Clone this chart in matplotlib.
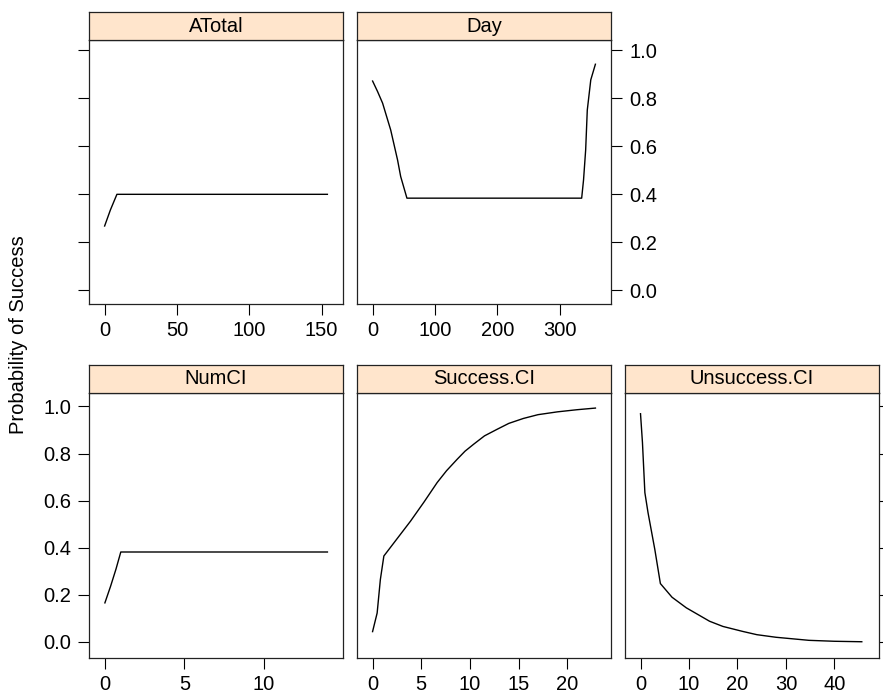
import matplotlib
matplotlib.use("Agg")
import matplotlib.pyplot as plt

plt.rcParams['font.family'] = ['Liberation Sans', 'DejaVu Sans']

# ---- data ----
atotal_x = [0, 4, 8.5, 154]
atotal_y = [0.268, 0.335, 0.40, 0.40]

day_x = [0, 8, 16, 29, 40, 45, 55, 335, 338, 341.4, 344, 349.6, 357]
day_y = [0.872, 0.828, 0.78, 0.668, 0.543, 0.474, 0.384, 0.384, 0.46, 0.585, 0.751, 0.877, 0.942]

numci_x = [0, 0.36, 0.7, 1.0, 14.0]
numci_y = [0.166, 0.237, 0.31, 0.382, 0.382]

succ_x = [0, 0.47, 0.8, 1.16, 3.9, 5.3, 6.64, 7.6, 8.7, 9.5, 10.4, 11.5, 12.8, 14.0, 15.5, 17.0, 19.0, 21.0, 22.9]
succ_y = [0.044, 0.123, 0.265, 0.365, 0.513, 0.595, 0.677, 0.727, 0.776, 0.81, 0.84, 0.875, 0.903, 0.928, 0.949, 0.965, 0.977, 0.986, 0.993]

unsucc_x = [0, 0.4, 0.9, 1.55, 2.95, 4.1, 6.5, 9.45, 14.25, 17.0, 21.05, 24.0, 27.95, 34.75, 40.0, 45.65]
unsucc_y = [0.969, 0.847, 0.634, 0.549, 0.393, 0.248, 0.19, 0.145, 0.088, 0.066, 0.045, 0.031, 0.02, 0.007, 0.003, 0.001]

titles = ["ATotal", "Day", "NumCI", "Success.CI", "Unsuccess.CI"]
xticks = [[0, 50, 100, 150], [0, 100, 200, 300], [0, 5, 10], [0, 5, 10, 15, 20], [0, 10, 20, 30, 40]]
yticks = [0.0, 0.2, 0.4, 0.6, 0.8, 1.0]
ylabel = "Probability of Success"

W, H = 883, 695
fig = plt.figure(figsize=(W / 100, H / 100), dpi=100)

def rect(x0, y0, x1, y1):
    return [x0 / W, 1 - y1 / H, (x1 - x0) / W, (y1 - y0) / H]

cols = [(89, 343), (357, 611), (625, 879)]
rows = {0: (12, 40, 304), 1: (365, 393, 658)}
ylims = {0: (-0.057, 1.043), 1: (-0.068, 1.057)}
xlims = [(-10.8, 164.8), (-25, 382), (-1.0, 14.98), (-1.6, 24.5), (-3.2, 49.2)]

panels = [
    (0, 0, atotal_x, atotal_y, 'left_nolab'),
    (0, 1, day_x, day_y, 'right_lab'),
    (1, 0, numci_x, numci_y, 'left_lab'),
    (1, 1, succ_x, succ_y, 'none'),
    (1, 2, unsucc_x, unsucc_y, 'right_nolab'),
]

FS = 14.5
for i, (r, c, xs, ys, ymode) in enumerate(panels):
    x0, x1 = cols[c]
    st, sb, pb = rows[r]
    ax = fig.add_axes(rect(x0, sb, x1, pb))
    ax.plot(xs, ys, color='black', lw=1.0)
    ax.set_xlim(*xlims[i])
    ax.set_ylim(*ylims[r])
    ax.set_xticks(xticks[i])
    ax.tick_params(axis='x', direction='out', length=8, width=0.8, pad=4, labelsize=FS)
    if ymode == 'none':
        ax.set_yticks([])
    else:
        ax.set_yticks(yticks)
        ax.set_yticklabels(["%.1f" % v for v in yticks])
        right = ymode.startswith('right')
        lab = ymode.endswith('_lab')
        ax.tick_params(axis='y', direction='out', length=8, width=0.8, pad=5,
                       labelsize=FS, left=not right, right=right,
                       labelleft=(not right) and lab, labelright=right and lab)
    for s in ax.spines.values():
        s.set_linewidth(0.9)
        s.set_color('#222222')
    # strip
    sax = fig.add_axes(rect(x0, st, x1, sb))
    sax.set_facecolor('#FFE5CC')
    sax.set_xticks([]); sax.set_yticks([])
    for s in sax.spines.values():
        s.set_linewidth(0.9)
        s.set_color('#222222')
    sax.text(0.5, 0.5, titles[i], ha='center', va='center', fontsize=FS, transform=sax.transAxes)

fig.text(19 / W, 1 - 335 / H, ylabel, rotation=90, ha='center', va='center', fontsize=FS)

fig.savefig("out.png", dpi=100)
